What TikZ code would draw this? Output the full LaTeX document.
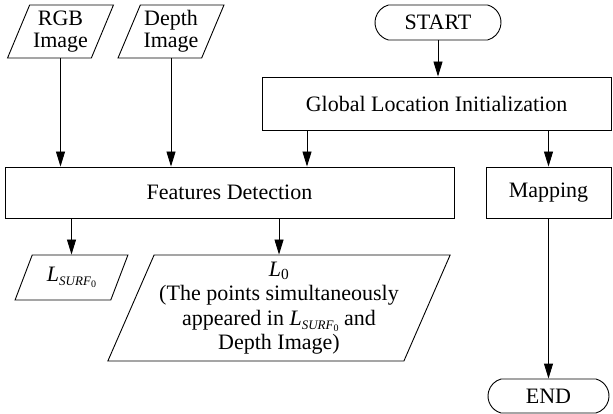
\documentclass[tikz,border=0pt]{standalone}
\usepackage{fontspec}
\setmainfont{Liberation Serif}
\usetikzlibrary{shapes.geometric,shapes.misc,arrows.meta}

\tikzset{
  base/.style={draw, line width=0.9pt, inner sep=2pt, align=center,
    font=\fontsize{22}{23}\selectfont},
  procbox/.style={base, rectangle},
  iobox/.style={base, trapezium, trapezium left angle=65, trapezium right angle=115,
    trapezium stretches=true},
  termbox/.style={base, rounded rectangle, rounded rectangle arc length=150},
  arr/.style={line width=0.9pt, -{Triangle[length=15pt,width=9pt]}},
}

% L with a small italic SURF subscript carrying its own 0
\newcommand{\lsurf}{\textit{L}\raisebox{-0.2em}{\fontsize{13}{13}\selectfont\textit{SURF}\raisebox{-0.15em}{\fontsize{10}{10}\selectfont 0}}}

\begin{document}
\begin{tikzpicture}[x=1pt, y=-1pt]
  \useasboundingbox (0,0) rectangle (613,414);

  % inputs and terminals
  \node[iobox, minimum width=106pt, minimum height=53pt] (rgb) at (60.5,31.5) {RGB\\[-1pt]Image};
  \node[iobox, minimum width=106pt, minimum height=53pt] (depth) at (171,31.5) {Depth\\[-1pt]Image};
  \node[termbox, minimum width=130pt, minimum height=35pt] (start) at (438,22.5) {START};

  % processing steps
  \node[procbox, minimum width=349pt, minimum height=53pt] (global) at (436.5,103.5) {Global Location Initialization};
  \node[procbox, minimum width=449pt, minimum height=51pt] (features) at (229.5,192.5) {Features Detection};
  \node[procbox, minimum width=125pt, minimum height=51pt] (mapping) at (548.5,192.5) {Mapping};

  % outputs
  \node[iobox, minimum width=113pt, minimum height=45pt] (ls) at (71.5,277.5) {\lsurf};
  \node[iobox, minimum width=343pt, minimum height=106pt, font=\fontsize{22}{24.5}\selectfont] (l0) at (279,308)
    {\textit{L}\textsubscript{0}\\(The points simultaneously\\appeared in \lsurf{} and\\Depth Image)};
  \node[termbox, minimum width=125pt, minimum height=34pt] (end) at (548.5,396) {END};

  % branch point on the initialization box
  \coordinate (gf) at (307,0);

  % connectors
  \draw[arr] (rgb.south) -- (rgb.south |- features.north);
  \draw[arr] (depth.south) -- (depth.south |- features.north);
  \draw[arr] (start.south) -- (start.south |- global.north);
  \draw[arr] (gf |- global.south) -- (gf |- features.north);
  \draw[arr] (mapping.north |- global.south) -- (mapping.north);
  \draw[arr] (ls.north |- features.south) -- (ls.north);
  \draw[arr] (l0.north |- features.south) -- (l0.north);
  \draw[arr] (mapping.south) -- (end.north);
\end{tikzpicture}
\end{document}
